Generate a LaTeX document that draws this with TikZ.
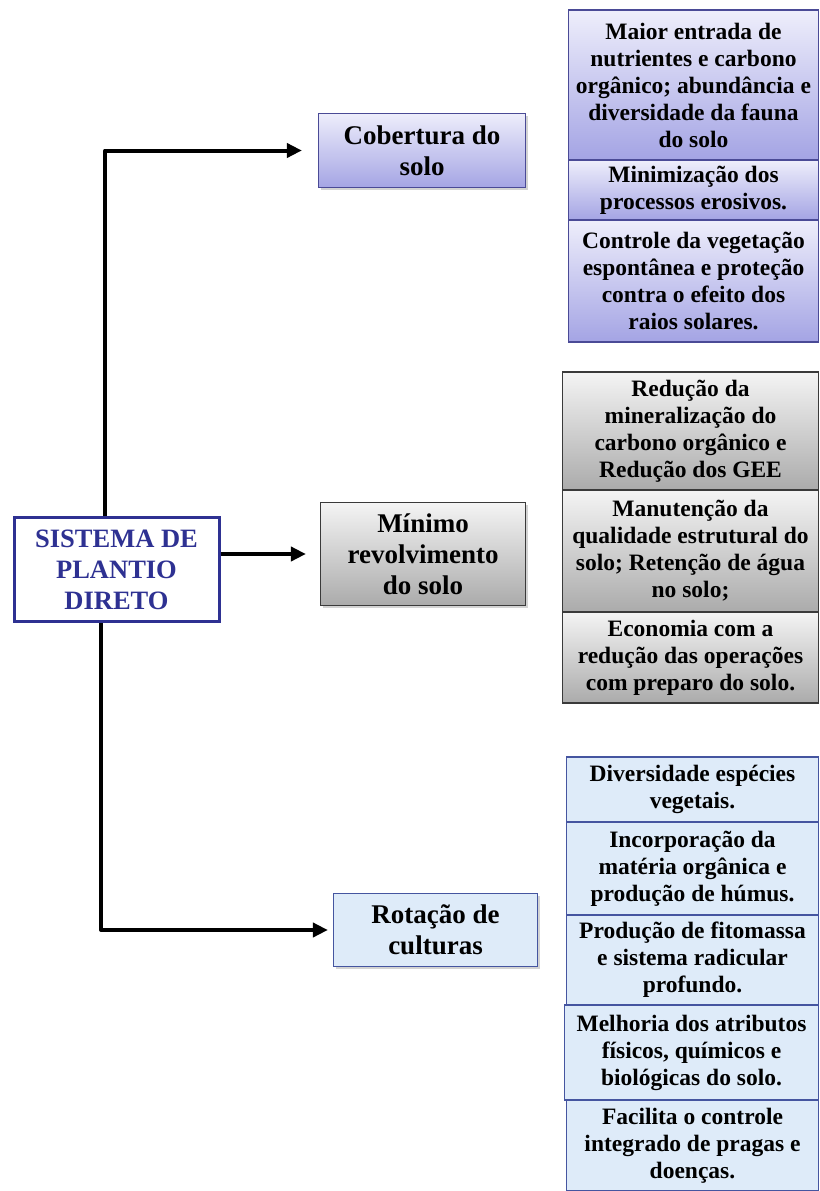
\documentclass[tikz,border=0pt]{standalone}
\usepackage{fontspec}
\setmainfont{Liberation Serif}
\usetikzlibrary{arrows.meta,shadows}
\definecolor{sysblue}{HTML}{2E3192}
\definecolor{purpborder}{HTML}{4A4A96}
\definecolor{purptop}{HTML}{EEEEFB}
\definecolor{purpbot}{HTML}{A4A4E4}
\definecolor{graytop}{HTML}{F4F4F4}
\definecolor{graybot}{HTML}{ABABAB}
\definecolor{grayborder}{HTML}{3A3A3A}
\definecolor{lblue}{HTML}{DEEBF9}
\definecolor{lblueborder}{HTML}{4555A0}
\tikzset{
  x=1pt, y=-1pt,
  base/.style={align=center, inner sep=1pt, font=\bfseries\fontsize{23.5}{27}\selectfont, text=black},
  purp/.style={base, draw=purpborder, line width=1.2pt, top color=purptop, bottom color=purpbot},
  grey/.style={base, draw=grayborder, line width=1.2pt, top color=graytop, bottom color=graybot},
  lb/.style={base, draw=lblueborder, line width=1.2pt, fill=lblue},
  mid/.style={font=\bfseries\fontsize{27}{31}\selectfont, drop shadow={shadow xshift=2pt, shadow yshift=-2pt, opacity=0.35}},
  conn/.style={line width=4pt, -{Triangle[length=15pt,width=14pt]}, line join=round},
}
\begin{document}
\begin{tikzpicture}
\useasboundingbox (0,0) rectangle (819,1191);
% central node
\node[draw=sysblue, line width=3pt, fill=white, minimum width=205pt, minimum height=104pt, align=center,
  text=sysblue, font=\bfseries\fontsize{26.5}{31}\selectfont] (sys) at (116.5,569.5) {SISTEMA DE\\PLANTIO\\DIRETO};
% middle level
\node[purp, mid, minimum width=207pt, minimum height=74pt] (cob) at (422,150.5) {Cobertura do\\solo};
\node[grey, mid, minimum width=205pt, minimum height=103pt] (min) at (423,554) {Mínimo\\revolvimento\\do solo};
\node[lb, mid, minimum width=204pt, minimum height=73pt] (rot) at (435.5,930) {Rotação de\\culturas};
% stack 1
\node[purp, minimum width=250pt, minimum height=150pt] (a1) at (693.5,85) {Maior entrada de\\nutrientes e carbono\\orgânico; abundância e\\diversidade da fauna\\do solo};
\node[purp, minimum width=250pt, minimum height=60pt] (a2) at (693.5,190) {Minimização dos\\processos erosivos.};
\node[purp, minimum width=250pt, minimum height=122pt] (a3) at (693.5,281) {Controle da vegetação\\espontânea e proteção\\contra o efeito dos\\raios solares.};
% stack 2
\node[grey, minimum width=256pt, minimum height=118pt] (b1) at (690.5,431) {Redução da\\mineralização do\\carbono orgânico e\\Redução dos GEE};
\node[grey, minimum width=256pt, minimum height=122pt] (b2) at (690.5,551) {Manutenção da\\qualidade estrutural do\\solo; Retenção de água\\no solo;};
\node[grey, minimum width=256pt, minimum height=91pt] (b3) at (690.5,657.5) {Economia com a\\redução das operações\\com preparo do solo.};
% stack 3
\node[lb, minimum width=252pt, minimum height=65pt] (c1) at (692.5,789.5) {Diversidade espécies\\vegetais.};
\node[lb, minimum width=252pt, minimum height=93pt] (c2) at (692.5,868.5) {Incorporação da\\matéria orgânica e\\produção de húmus.};
\node[lb, minimum width=252pt, minimum height=90pt] (c3) at (692.5,960) {Produção de fitomassa\\e sistema radicular\\profundo.};
\node[lb, minimum width=254pt, minimum height=95pt] (c4) at (691.5,1052.5) {Melhoria dos atributos\\físicos, químicos e\\biológicas do solo.};
\node[lb, minimum width=252pt, minimum height=91pt] (c5) at (692.5,1145.5) {Facilita o controle\\integrado de pragas e\\doenças.};
% connectors
\coordinate (tx) at (105,0);
\coordinate (bx) at (101,0);
\draw[conn, shorten >=16pt] (sys.north -| tx) |- (cob.west);
\draw[conn, shorten >=14pt] (sys.east |- min.west) -- (min.west);
\draw[conn, shorten >=5pt] (sys.south -| bx) |- (rot.west);
\end{tikzpicture}
\end{document}
